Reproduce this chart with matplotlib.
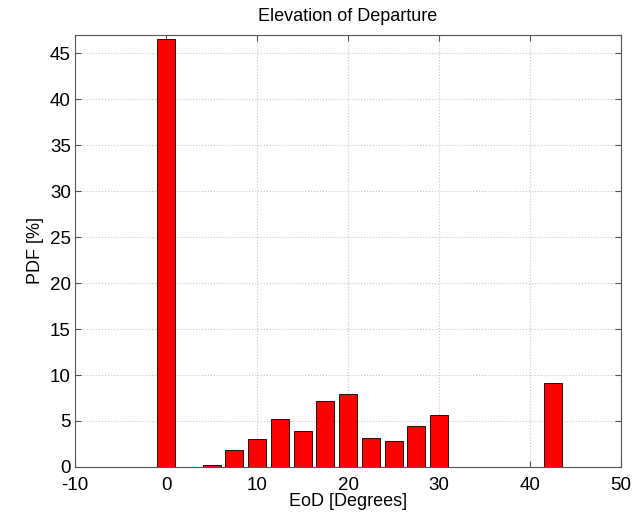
import numpy as np
import matplotlib
matplotlib.use("Agg")
import matplotlib.pyplot as plt

plt.rcParams['font.family'] = ['Liberation Sans', 'DejaVu Sans']
plt.rcParams['axes.unicode_minus'] = False

# centros de los bins (grados) y PDF en %
eod = [0, 5, 7.5, 10, 12.5, 15, 17.5, 20, 22.5, 25, 27.5, 30, 42.5]
pdf = [46.5, 0.2, 1.8, 3.0, 5.2, 3.9, 7.2, 7.9, 3.2, 2.8, 4.4, 5.6, 9.1]

fig = plt.figure(figsize=(6.37, 5.12), dpi=100)
ax = fig.add_axes([0.118, 0.088, 0.857, 0.844])

ax.bar(eod, pdf, width=2.0, color='#ff0000', edgecolor='black', linewidth=0.6, zorder=3)

ax.set_xlim(-10, 50)
ax.set_ylim(0, 47)
ax.set_xticks(np.arange(-10, 51, 10))
ax.set_yticks(np.arange(0, 46, 5))
ax.grid(True, linestyle=':', color='#c8c8c8', linewidth=0.8, zorder=0)
ax.tick_params(direction='in', top=True, right=True, labelsize=13.5, length=4, color='#555555')
ax.tick_params(axis='x', pad=7.5)
ax.tick_params(axis='y', pad=3)
for s in ax.spines.values():
    s.set_color('#555555')

ax.set_xlabel('EoD [Degrees]', fontsize=13, labelpad=-1)
ax.set_ylabel('PDF [%]', fontsize=13, labelpad=4)
ax.set_title('Elevation of Departure', fontsize=13, pad=10)

fig.savefig('out.png', dpi=100)
